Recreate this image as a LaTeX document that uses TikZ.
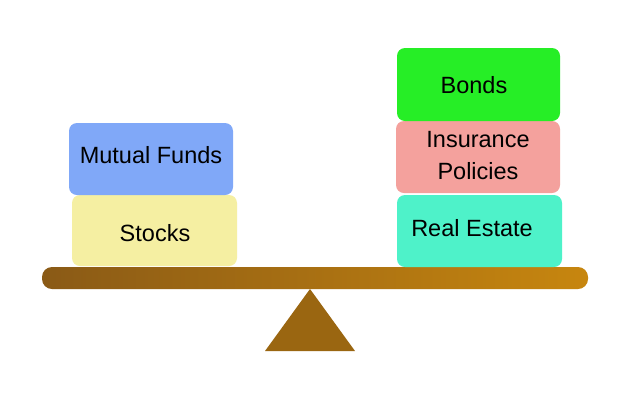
\documentclass[tikz,border=0pt]{standalone}
\usepackage{fontspec}
\setmainfont{Liberation Sans}
\definecolor{mfblue}{HTML}{80A8F8}
\definecolor{stkyellow}{HTML}{F5EFA2}
\definecolor{bndgreen}{HTML}{26EE26}
\definecolor{inspink}{HTML}{F4A19D}
\definecolor{reaqua}{HTML}{4EF2C9}
\definecolor{beamL}{HTML}{8A5A16}
\definecolor{beamR}{HTML}{C7860F}
\definecolor{fulcrum}{HTML}{9A6611}
\begin{document}
\begin{tikzpicture}[x=1pt,y=-1pt,
  block/.style={rounded corners=8pt, inner sep=0pt, outer sep=0pt},
  lbl/.style={font=\fontsize{23.5}{28}\selectfont, text=black, align=center, inner sep=0pt}]
\useasboundingbox (0,0) rectangle (640,400);
\fill[white] (0,0) rectangle (640,400);
% beam
\shade[left color=beamL, right color=beamR, rounded corners=10pt] (42,267) rectangle (588,289);
% fulcrum
\fill[fulcrum] (310,289) -- (355,351) -- (265,351) -- cycle;
% left stack
\fill[block, stkyellow] (72,195) rectangle (237,266);
\fill[block, mfblue] (69,123) rectangle (233,195);
\node[lbl] (mf) at (151,155) {Mutual Funds};
\node[lbl] (stk) at (155,233) {Stocks};
% right stack
\fill[block, reaqua] (397,195) rectangle (562,267);
\fill[block, inspink] (396,121) rectangle (560,193);
\fill[block, bndgreen] (397,48) rectangle (560,121);
\node[lbl] (bnd) at (474,85) {Bonds};
\node[lbl, font=\fontsize{23.5}{32}\selectfont] (ins) at (478,156) {Insurance\\Policies};
\node[lbl] (re) at (472,228) {Real Estate};
\end{tikzpicture}
\end{document}
